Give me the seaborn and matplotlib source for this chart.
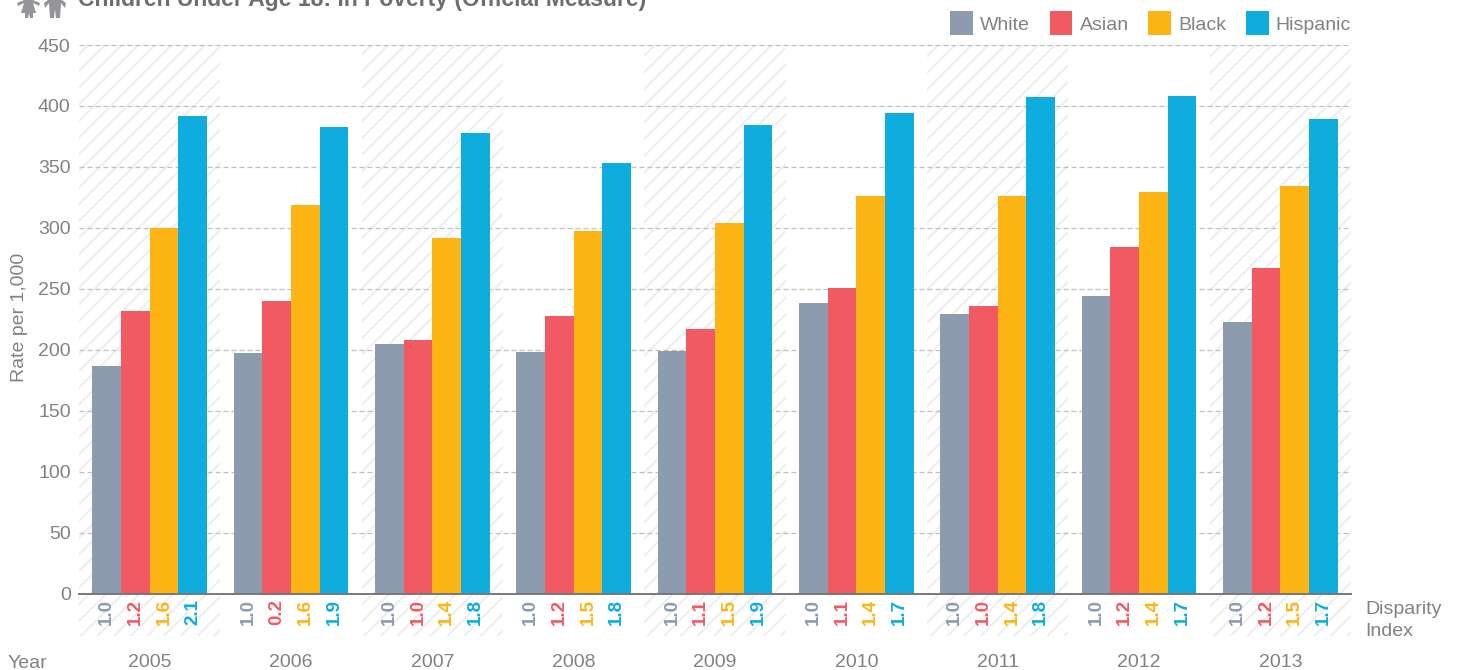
import matplotlib
matplotlib.use("Agg")
import matplotlib.pyplot as plt
from matplotlib.patches import Polygon
from matplotlib.transforms import blended_transform_factory
import pandas as pd
import seaborn as sns

years = ["2005", "2006", "2007", "2008", "2009", "2010", "2011", "2012", "2013"]
races = ["White", "Asian", "Black", "Hispanic"]
white = [187, 197, 205, 198, 199, 238, 229, 244, 223]
asian = [232, 240, 208, 228, 217, 251, 236, 284, 267]
black = [300, 319, 292, 297, 304, 326, 326, 329, 334]
hispanic = [392, 383, 378, 353, 384, 394, 407, 408, 389]
di_white = ["1.0"] * 9
di_asian = ["1.2", "0.2", "1.0", "1.2", "1.1", "1.1", "1.0", "1.2", "1.2"]
di_black = ["1.6", "1.6", "1.4", "1.5", "1.5", "1.4", "1.4", "1.4", "1.5"]
di_hispanic = ["2.1", "1.9", "1.8", "1.8", "1.9", "1.7", "1.8", "1.7", "1.7"]
colors = ["#8d9bae", "#f15a63", "#fdb515", "#0eadde"]
title = "Children Under Age 18: In Poverty (Official Measure)"

sns.set_theme(style="white")
plt.rcParams["font.family"] = ["Liberation Sans", "DejaVu Sans"]
plt.rcParams["hatch.linewidth"] = 1.5
GREY = "#808285"
W, H = 1460, 670

fig = plt.figure(figsize=(W / 100, H / 100), dpi=100)
ax = fig.add_axes([79 / W, 1 - 593.5 / H, (1351 - 79) / W, (593.5 - 45) / H])

df = pd.DataFrame({
    "year": years * 4,
    "race": [r for r in races for _ in years],
    "rate": white + asian + black + hispanic,
})
sns.barplot(data=df, x="year", y="rate", hue="race", order=years, hue_order=races,
            palette=colors, saturation=1, width=0.81, gap=0, errorbar=None,
            linewidth=0, ax=ax, zorder=3)

ax.set_xlim(-0.5, 8.5)
ax.set_ylim(0, 450)
ax.set_yticks(range(0, 451, 50))
ax.set_xlabel("")
ax.set_ylabel("")
ax.grid(False)
for s in ["top", "left", "right"]:
    ax.spines[s].set_visible(False)
ax.spines["bottom"].set_color("#77787b")
ax.spines["bottom"].set_linewidth(1.4)
ax.spines["bottom"].set_zorder(5)
ax.tick_params(axis="both", length=0, labelsize=14, labelcolor=GREY)
ax.tick_params(axis="x", pad=43.5)
ax.tick_params(axis="y", pad=6)

for v in range(50, 451, 50):
    ax.axhline(v, color="#c0c0c0", lw=0.9, ls=(0, (4, 2.4)), zorder=2, clip_on=False)

for i in range(0, 9, 2):
    ax.axvspan(i - 0.5, i + 0.5, ymin=-42.5 / 548.5, ymax=1, facecolor="none",
               edgecolor="#eeeeee", hatch="//", lw=0, zorder=1, clip_on=False)

trans = blended_transform_factory(ax.transData, ax.transAxes)
di_all = [di_white, di_asian, di_black, di_hispanic]
for container, labels, col in zip(ax.containers, di_all, colors):
    for bar, lab in zip(container.patches, labels):
        ax.text(bar.get_x() + bar.get_width() / 2, -18.5 / 548.5, lab, transform=trans,
                rotation=90, ha="center", va="center", fontsize=13.5, fontweight="bold",
                color=col, clip_on=False)

handles, labels = ax.get_legend_handles_labels()
leg = ax.legend(handles, labels, ncol=4, frameon=False, fontsize=14,
                loc="upper right", bbox_to_anchor=(1.0, 1.0 + 34 / 548.5),
                borderaxespad=0, borderpad=0, handlelength=1.18, handleheight=1.55,
                handletextpad=0.36, columnspacing=1.01, labelcolor=GREY)

fig.text(20 / W, 1 - 317 / H, "Rate per 1,000", rotation=90, ha="center", va="center",
         fontsize=14, color=GREY)
fig.text(8 / W, 1 - 663 / H, "Year", ha="left", va="center", fontsize=14, color=GREY)
fig.text(1365 / W, 1 - 610 / H, "Disparity", ha="left", va="center", fontsize=14, color=GREY)
fig.text(1365 / W, 1 - 632 / H, "Index", ha="left", va="center", fontsize=14, color=GREY)
fig.text(78 / W, 1 - 6 / H, title, ha="left", va="baseline", fontsize=16.45,
         fontweight="bold", color="#6d6e71")

# decorative people icon, cut off by the top edge
def px(points):
    return [(x / W, 1 - y / H) for x, y in points]

icon = "#939598"
for pts in (
    [(17, 3), (24, 0), (33, 0), (40, 3), (39, 6), (33, 3), (36, 13), (33, 13), (33, 18),
     (30, 18), (29, 13), (28, 18), (25, 18), (25, 13), (21, 13), (24, 3), (18, 6)],
    [(44, 3), (48, 0), (62, 0), (66, 3), (65, 8), (61, 3), (60, 18), (56, 18), (55, 9),
     (54, 18), (50, 18), (49, 3), (45, 8)],
):
    fig.add_artist(Polygon(px(pts), closed=True, transform=fig.transFigure,
                           facecolor=icon, edgecolor="none"))

fig.savefig("out.png", dpi=100, facecolor="white")
